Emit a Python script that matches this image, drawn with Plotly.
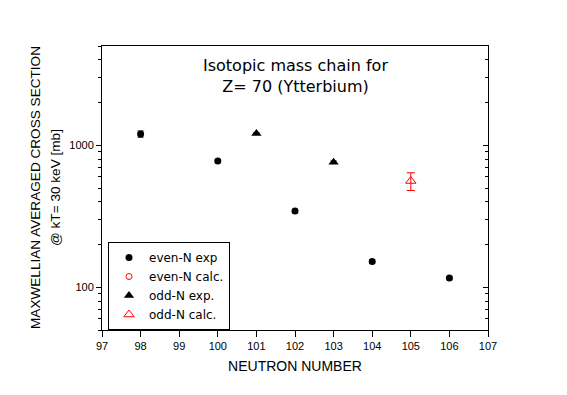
import plotly.graph_objects as go

# Data
even_exp_n = [98, 100, 102, 104, 106]
even_exp_sigma = [1200, 775, 344, 152, 116]
even_exp_err = [60, 20, 10, 4, 3]

odd_exp_n = [101, 103]
odd_exp_sigma = [1210, 760]
odd_exp_err = [15, 15]

even_calc_n = [None]
even_calc_sigma = [None]

odd_calc_n = [105]
odd_calc_sigma = [560]
odd_calc_err = [80]

x_ticks = list(range(97, 108))

font = "Liberation Sans, Arial, sans-serif"
wide = "DejaVu Sans, Verdana, sans-serif"
minor_vals = [50, 60, 70, 80, 90, 200, 300, 400, 500, 600, 700, 800, 900,
              2000, 3000, 4000, 5000]

fig = go.Figure()
fig.add_trace(go.Scatter(
    x=even_exp_n, y=even_exp_sigma, mode="markers", name="even-N exp",
    marker=dict(symbol="circle", size=7, color="black"),
    error_y=dict(type="data", array=even_exp_err, color="black", thickness=1, width=3),
))
fig.add_trace(go.Scatter(
    x=even_calc_n, y=even_calc_sigma, mode="markers", name="even-N calc.",
    marker=dict(symbol="circle-open", size=6, color="red", line=dict(width=1, color="red")),
))
fig.add_trace(go.Scatter(
    x=odd_exp_n, y=odd_exp_sigma, mode="markers", name="odd-N exp.",
    marker=dict(symbol="triangle-up", size=9, color="black"),
    error_y=dict(type="data", array=odd_exp_err, color="black", thickness=1, width=3),
))
fig.add_trace(go.Scatter(
    x=odd_calc_n, y=odd_calc_sigma, mode="markers", name="odd-N calc.",
    marker=dict(symbol="triangle-up-open", size=9, color="red", line=dict(width=1, color="red")),
    error_y=dict(type="data", array=odd_calc_err, color="red", thickness=1, width=4),
))
# invisible trace for right-side inner ticks axis
fig.add_trace(go.Scatter(x=[None], y=[None], yaxis="y2", showlegend=False, hoverinfo="skip"))

yrange = [1.69897, 3.69897]

L, R, T, B = 102, 79, 46, 65
W, H = 567, 395
pw = W - L - R
ph = H - T - B

fig.update_layout(
    width=W, height=H,
    margin=dict(l=L, r=R, t=T, b=B),
    paper_bgcolor="white", plot_bgcolor="white",
    font=dict(family=font, color="black", size=11),
    xaxis=dict(
        range=[97, 107], tickmode="array", tickvals=x_ticks,
        ticks="outside", ticklen=6, tickwidth=1, tickcolor="black",
        showline=True, linecolor="black", linewidth=1, mirror=True,
        showgrid=False, zeroline=False,
        tickfont=dict(size=11, family=font),
        title=dict(text="NEUTRON NUMBER", font=dict(size=14, family=font), standoff=9),
    ),
    yaxis=dict(
        type="log", range=yrange,
        tickmode="array", tickvals=[100, 1000], ticktext=["100", "1000"],
        ticks="outside", ticklen=5, tickwidth=1, tickcolor="black",
        minor=dict(ticks="outside", ticklen=3, tickwidth=1, tickcolor="black",
                   tickvals=minor_vals, showgrid=False),
        showline=True, linecolor="black", linewidth=1, mirror=True,
        showgrid=False, zeroline=False,
        tickfont=dict(size=11, family=font),
    ),
    yaxis2=dict(
        type="log", range=yrange, overlaying="y", side="right",
        tickmode="array", tickvals=[100, 1000], showticklabels=False,
        ticks="inside", ticklen=5, tickwidth=1, tickcolor="black",
        minor=dict(ticks="inside", ticklen=3, tickwidth=1, tickcolor="black",
                   tickvals=minor_vals, showgrid=False),
        showline=False, showgrid=False, zeroline=False,
    ),
    legend=dict(
        x=(108 - L) / pw, y=(330 - 242) / ph, xanchor="left", yanchor="top",
        bordercolor="black", borderwidth=1, bgcolor="white",
        font=dict(size=12, family=wide),
        tracegroupgap=0, itemwidth=30,
    ),
    showlegend=True,
    annotations=[
        dict(text="Isotopic mass chain for<br>Z= 70 (Ytterbium)", x=0.5, y=(330 - 76) / ph,
             xref="paper", yref="paper", showarrow=False, yanchor="middle",
             font=dict(size=16, family=wide)),
        dict(text="MAXWELLIAN AVERAGED CROSS SECTION", x=(35 - L) / pw, y=(330 - 188) / ph,
             xref="paper", yref="paper", xanchor="center", yanchor="middle",
             showarrow=False, textangle=-90, font=dict(size=13.6, family=font)),
        dict(text="@ kT= 30 keV [mb]", x=(55 - L) / pw, y=(330 - 188) / ph,
             xref="paper", yref="paper", xanchor="center", yanchor="middle",
             showarrow=False, textangle=-90, font=dict(size=13.6, family=font)),
    ],
)

fig.write_html("out.html", config={"displayModeBar": False},
               post_script="document.body.style.margin='0';")
